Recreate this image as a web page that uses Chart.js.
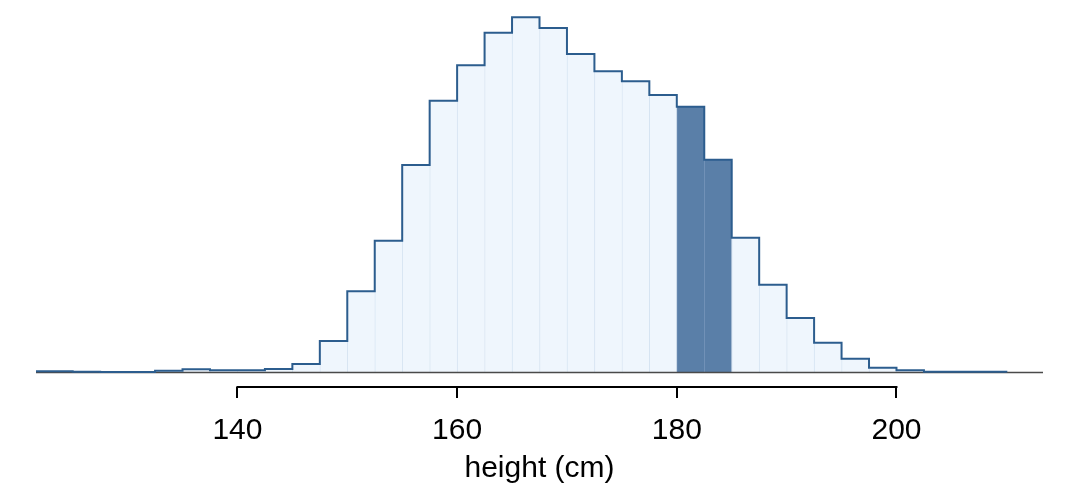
<!DOCTYPE html>
<html>
<head>
<meta charset="utf-8">
<script src="https://cdn.jsdelivr.net/npm/chart.js@4"></script>
<style>
  html, body { margin: 0; padding: 0; background: #ffffff; }
  #wrap { width: 1080px; height: 495px; }
</style>
</head>
<body>
<div id="wrap"><canvas id="c" width="1080" height="495"></canvas></div>
<script>
// Histogram bins: left edges (cm), width 2.5 cm
const binLeft = [120, 122.5, 125, 127.5, 130, 132.5, 135, 137.5, 140, 142.5,
                 145, 147.5, 150, 152.5, 155, 157.5, 160, 162.5, 165, 167.5,
                 170, 172.5, 175, 177.5, 180, 182.5, 185, 187.5, 190, 192.5,
                 195, 197.5, 200, 202.5, 205, 207.5];
const binWidth = 2.5;
// Counts per bin (relative units)
const counts = [13, 13, 8, 5, 5, 18, 32, 22, 22, 35,
                85, 315, 812, 1318, 2075, 2718, 3072, 3398, 3552, 3445,
                3185, 3012, 2912, 2775, 2658, 2128, 1348, 878, 545, 298,
                138, 48, 22, 8, 8, 8];
// Highlighted range
const highlightFrom = 180;
const highlightTo = 185;
// Axis
const xTicks = [140, 160, 180, 200];
const xRange = [121.66, 213.34];
const yRange = [-145, 3625];
const xTitle = 'height (cm)';

const FONT = '"Liberation Sans", Arial, Helvetica, sans-serif';
const lightFill = '#eff6fd';
const lightEdge = '#d6e4f2';
const darkFill = '#5a7fa8';
const darkEdge = '#7393b8';
const outline = '#2c5d8e';

const isHi = (l) => l >= highlightFrom && l + binWidth <= highlightTo;

const barData = binLeft.map((l, i) => ({ x: l + binWidth / 2, y: counts[i] }));
const stepData = binLeft.map((l, i) => ({ x: l, y: counts[i] }));
stepData.push({ x: binLeft[binLeft.length - 1] + binWidth, y: 0 });

const axisPlugin = {
  id: 'rAxis',
  afterDatasetDraw(chart, args) {
    if (args.index !== 1) return;
    const { ctx, chartArea, scales } = chart;
    const y0 = scales.y.getPixelForValue(0);
    ctx.save();
    ctx.strokeStyle = '#4a4a4a';
    ctx.lineWidth = 1.6;
    ctx.beginPath();
    ctx.moveTo(chartArea.left, y0);
    ctx.lineTo(chartArea.right, y0);
    ctx.stroke();
    ctx.restore();
  },
  afterDraw(chart) {
    const { ctx, scales } = chart;
    const xs = scales.x;
    const yA = xs.top;
    ctx.save();
    ctx.strokeStyle = '#000000';
    ctx.lineWidth = 2;
    ctx.beginPath();
    ctx.moveTo(xs.getPixelForValue(xTicks[0]) - 1, yA);
    ctx.lineTo(xs.getPixelForValue(xTicks[xTicks.length - 1]) + 1, yA);
    ctx.stroke();
    ctx.restore();
  }
};

new Chart(document.getElementById('c'), {
  type: 'bar',
  data: {
    datasets: [
      {
        type: 'line',
        data: stepData,
        stepped: 'before',
        borderColor: outline,
        borderWidth: 2,
        pointRadius: 0,
        fill: false,
        tension: 0,
        order: 0
      },
      {
        type: 'bar',
        data: barData,
        backgroundColor: binLeft.map(l => isHi(l) ? darkFill : lightFill),
        borderColor: binLeft.map(l => isHi(l) ? darkEdge : lightEdge),
        borderWidth: { left: 1, right: 0, top: 0, bottom: 0 },
        borderSkipped: false,
        barPercentage: 1,
        categoryPercentage: 1,
        order: 1
      }
    ]
  },
  options: {
    responsive: false,
    animation: false,
    events: [],
    layout: { padding: { left: 36, right: 37, top: 10, bottom: 0 } },
    plugins: { legend: { display: false }, tooltip: { enabled: false } },
    scales: {
      x: {
        type: 'linear',
        min: xRange[0],
        max: xRange[1],
        offset: false,
        afterBuildTicks: (s) => { s.ticks = xTicks.map(v => ({ value: v })); },
        afterFit: (s) => { s.height = 108; },
        grid: {
          display: true,
          drawOnChartArea: false,
          drawTicks: true,
          tickLength: 11,
          color: '#000000',
          lineWidth: 2,
          offset: false
        },
        border: { display: false },
        ticks: {
          color: '#000000',
          font: { family: FONT, size: 30 },
          padding: 15,
          maxRotation: 0,
          autoSkip: false
        },
        title: {
          display: true,
          text: xTitle,
          color: '#000000',
          font: { family: FONT, size: 30 },
          padding: { top: 0, bottom: 8 }
        }
      },
      y: {
        type: 'linear',
        display: false,
        min: yRange[0],
        max: yRange[1]
      }
    }
  },
  plugins: [axisPlugin]
});
</script>
</body>
</html>
